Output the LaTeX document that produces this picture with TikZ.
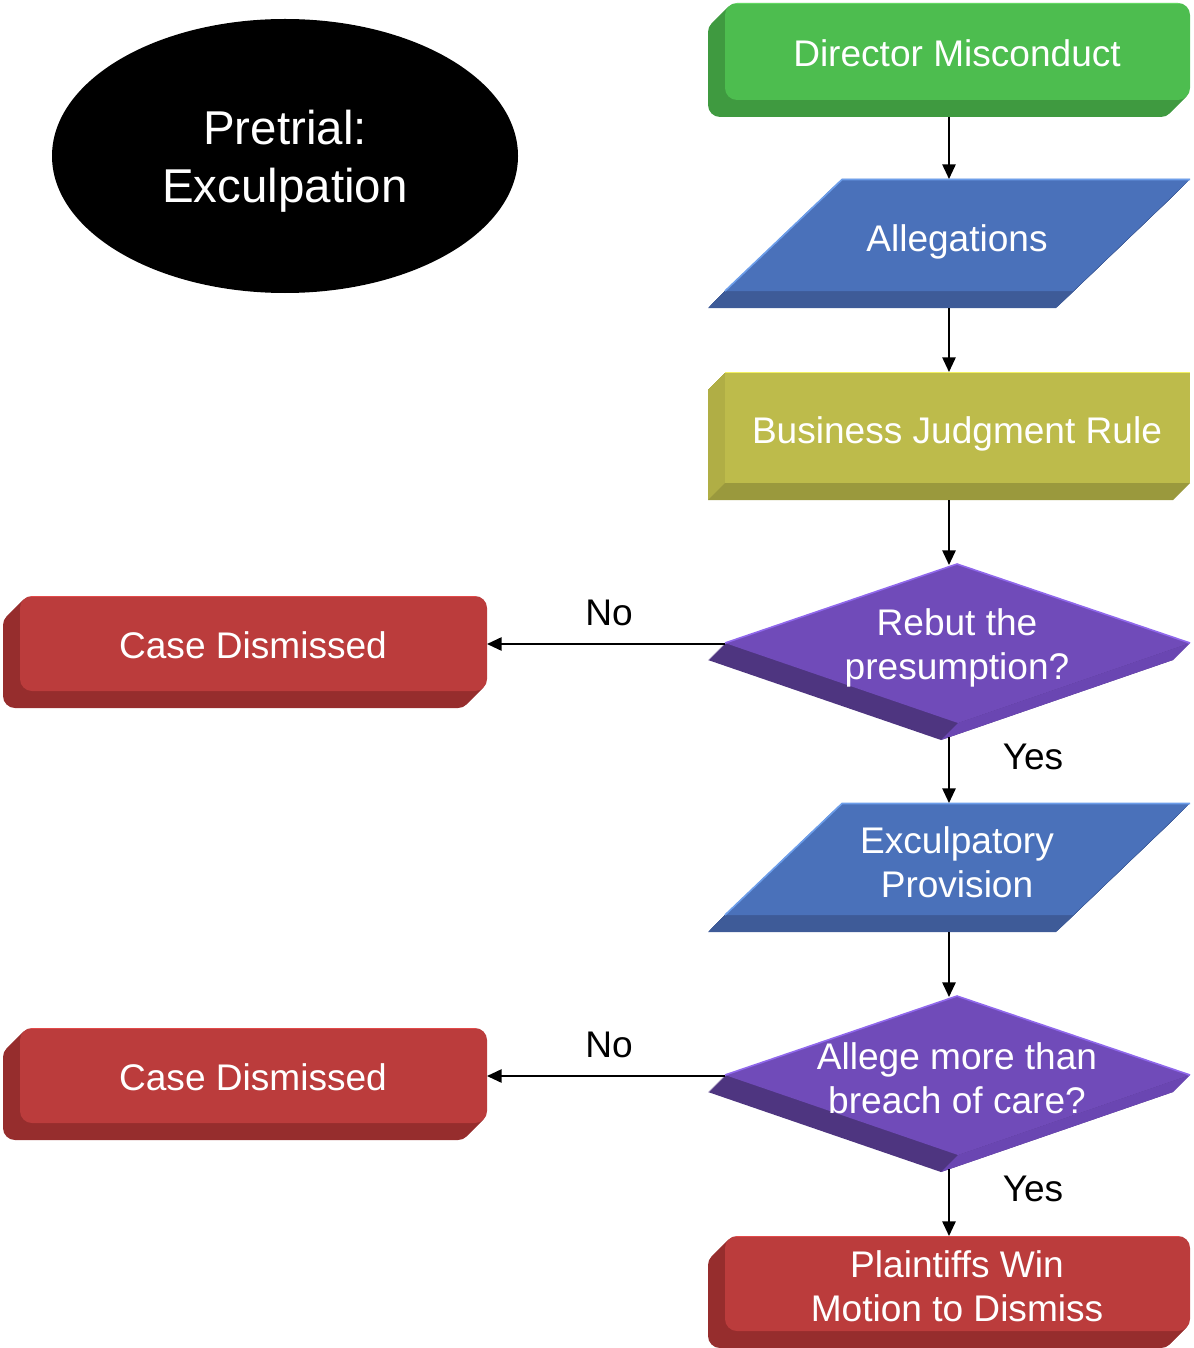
\documentclass[tikz,border=0pt]{standalone}
\usepackage{fontspec}
\setmainfont{Liberation Sans}
\usetikzlibrary{arrows.meta}

% face, side and edge colours of the extruded shapes
\definecolor{gfront}{HTML}{4DBD4F}
\definecolor{gside}{HTML}{3F9A40}
\definecolor{gedge}{HTML}{62D862}
\definecolor{bfront}{HTML}{4A71BA}
\definecolor{bside}{HTML}{3E5B98}
\definecolor{bedge}{HTML}{6D9EEA}
\definecolor{ofront}{HTML}{BDBB4B}
\definecolor{oleft}{HTML}{B0AE45}
\definecolor{obottom}{HTML}{9A993D}
\definecolor{oedge}{HTML}{F2F060}
\definecolor{pfront}{HTML}{704BB9}
\definecolor{pside}{HTML}{4E3580}
\definecolor{pstrip}{HTML}{6A46B2}
\definecolor{pedge}{HTML}{9068EC}
\definecolor{rfront}{HTML}{BB3C3C}
\definecolor{rside}{HTML}{962D2D}
\definecolor{redge}{HTML}{E24A4A}

\tikzset{
  lbl/.style={text=white, font=\fontsize{27.8}{33}\selectfont, align=center, inner sep=0pt},
  answer/.style={text=black, font=\fontsize{27.8}{33}\selectfont, inner sep=0pt},
  flow/.style={line width=1.3pt, -{Triangle[length=11pt,width=10pt]}},
  hl/.style={line width=1.2pt}
}

\begin{document}
\begin{tikzpicture}[x=0.75pt,y=-0.75pt]
\useasboundingbox (0,0) rectangle (1193,1348);

% ---- title ellipse
\fill[black] (285,156) ellipse [x radius=174.75pt, y radius=102.75pt];
\node[lbl, font=\fontsize{35.6}{43.5}\selectfont] (title) at (285,161) {Pretrial:\\Exculpation};

% ---- Director Misconduct (rounded box)
\foreach \d in {1,...,17}
  \fill[gside, rounded corners=9pt, shift={(-\d,\d)}] (725,3) rectangle (1190,100);
\fill[gfront, rounded corners=9pt] (725,3) rectangle (1190,100);
\draw[gedge, hl] (736,3.5) -- (1179,3.5);
\node[lbl] (dm) at (957,53) {Director Misconduct};

% ---- Allegations (parallelogram)
\foreach \d in {1,...,17}
  \fill[bside, shift={(-\d,\d)}] (842,179) -- (1190,179) -- (1073,291) -- (725,291) -- cycle;
\fill[bfront] (842,179) -- (1190,179) -- (1073,291) -- (725,291) -- cycle;
\draw[bedge, hl] (725,291) -- (842,179.5) -- (1190,179.5);
\node[lbl] (al) at (957,242) {Allegations};

% ---- Business Judgment Rule (box)
\foreach \d in {1,...,17}
  \fill[oleft, shift={(-\d,\d)}] (725,372) rectangle (1190,483);
\fill[obottom] (725,483) -- (1190,483) -- (1173,500) -- (708,500) -- cycle;
\fill[ofront] (725,372) rectangle (1190,483);
\draw[oedge, hl] (725,372.5) -- (1190,372.5);
\node[lbl] (bjr) at (957,434) {Business Judgment Rule};

% ---- Rebut the presumption? (decision)
\foreach \d in {1,...,17}
  \fill[pside, shift={(-\d,\d)}] (957,564) -- (1190,643) -- (958,723) -- (725,643) -- cycle;
\fill[pstrip] (1190,643) -- (958,723) -- (941,740) -- (1173,660) -- cycle;
\fill[pfront] (957,564) -- (1190,643) -- (958,723) -- (725,643) -- cycle;
\draw[pedge, hl] (725,643) -- (957,564) -- (1190,643);
\node[lbl] (rebut) at (957,648) {Rebut the\\presumption?};

% ---- Case Dismissed (upper)
\foreach \d in {1,...,17}
  \fill[rside, rounded corners=9pt, shift={(-\d,\d)}] (20,596) rectangle (487,691);
\fill[rfront, rounded corners=9pt] (20,596) rectangle (487,691);
\draw[redge, hl] (31,596.5) -- (476,596.5);
\node[lbl] (cd1) at (253,645) {Case Dismissed};

% ---- Exculpatory Provision (parallelogram)
\foreach \d in {1,...,17}
  \fill[bside, shift={(-\d,\d)}] (842,803) -- (1190,803) -- (1073,915) -- (725,915) -- cycle;
\fill[bfront] (842,803) -- (1190,803) -- (1073,915) -- (725,915) -- cycle;
\draw[bedge, hl] (725,915) -- (842,803.5) -- (1190,803.5);
\node[lbl] (exc) at (957,862) {Exculpatory\\Provision};

% ---- Allege more than breach of care? (decision)
\foreach \d in {1,...,17}
  \fill[pside, shift={(-\d,\d)}] (957,996) -- (1190,1075) -- (958,1155) -- (725,1075) -- cycle;
\fill[pstrip] (1190,1075) -- (958,1155) -- (941,1172) -- (1173,1092) -- cycle;
\fill[pfront] (957,996) -- (1190,1075) -- (958,1155) -- (725,1075) -- cycle;
\draw[pedge, hl] (725,1075) -- (957,996) -- (1190,1075);
\node[lbl] (allege) at (957,1078) {Allege more than\\breach of care?};

% ---- Case Dismissed (lower)
\foreach \d in {1,...,17}
  \fill[rside, rounded corners=9pt, shift={(-\d,\d)}] (20,1028) rectangle (487,1123);
\fill[rfront, rounded corners=9pt] (20,1028) rectangle (487,1123);
\draw[redge, hl] (31,1028.5) -- (476,1028.5);
\node[lbl] (cd2) at (253,1077) {Case Dismissed};

% ---- Plaintiffs Win Motion to Dismiss
\foreach \d in {1,...,17}
  \fill[rside, rounded corners=9pt, shift={(-\d,\d)}] (725,1236) rectangle (1190,1331);
\fill[rfront, rounded corners=9pt] (725,1236) rectangle (1190,1331);
\draw[redge, hl] (736,1236.5) -- (1179,1236.5);
\node[lbl] (win) at (957,1286) {Plaintiffs Win\\Motion to Dismiss};

% ---- connector ends
\coordinate (dm-out) at (949,117);
\coordinate (al-in) at (949,179);
\coordinate (al-out) at (949,308);
\coordinate (bjr-in) at (949,372);
\coordinate (bjr-out) at (949,500);
\coordinate (rebut-in) at (949,565);
\coordinate (rebut-out) at (949,737);
\coordinate (rebut-w) at (725,644);
\coordinate (cd1-e) at (487,644);
\coordinate (exc-in) at (949,803);
\coordinate (exc-out) at (949,932);
\coordinate (allege-in) at (949,997);
\coordinate (allege-out) at (949,1169);
\coordinate (allege-w) at (725,1076);
\coordinate (cd2-e) at (487,1076);
\coordinate (win-in) at (949,1236);

% ---- connectors
\draw[flow] (dm-out) -- (al-in);
\draw[flow] (al-out) -- (bjr-in);
\draw[flow] (bjr-out) -- (rebut-in);
\draw[flow] (rebut-w) -- (cd1-e);
\draw[flow] (rebut-out) -- (exc-in);
\draw[flow] (exc-out) -- (allege-in);
\draw[flow] (allege-w) -- (cd2-e);
\draw[flow] (allege-out) -- (win-in);

% ---- branch labels
\node[answer] (no1) at (609,613) {No};
\node[answer] (yes1) at (1033,757) {Yes};
\node[answer] (no2) at (609,1045) {No};
\node[answer] (yes2) at (1033,1189) {Yes};
\end{tikzpicture}
\end{document}
